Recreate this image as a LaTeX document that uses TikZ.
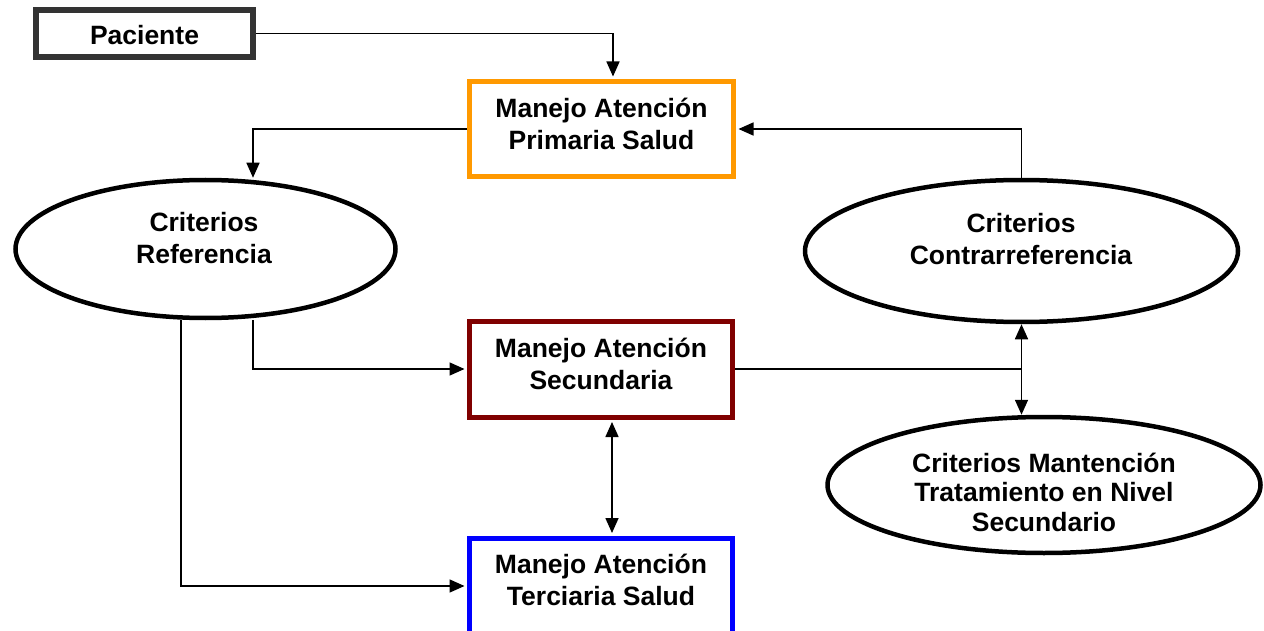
\documentclass[tikz,border=0pt]{standalone}
\usepackage{fontspec}
\setmainfont{Liberation Sans}
\usetikzlibrary{arrows.meta,shapes.geometric,calc}
\definecolor{pacgray}{HTML}{333333}
\definecolor{orangeb}{HTML}{FF9900}
\definecolor{redb}{HTML}{800000}
\definecolor{blueb}{HTML}{0000FF}
\begin{document}
\begin{tikzpicture}[x=1pt,y=-1pt,
  txt/.style={font=\bfseries\fontsize{26.5}{32}\selectfont, align=center, inner sep=0pt},
  boxn/.style={draw, line width=5pt, fill=white, minimum width=263pt, minimum height=96pt, inner sep=0pt},
  ell/.style={draw, ellipse, line width=4.5pt, fill=white, inner sep=0pt},
  conn/.style={line width=1.6pt},
  arr/.style={conn, -{Triangle[length=15pt,width=13pt]}},
  darr/.style={conn, {Triangle[length=15pt,width=13pt]}-{Triangle[length=15pt,width=13pt]}}
]
\useasboundingbox (0,0) rectangle (1264,631);
% nodes
\node[draw=pacgray, line width=6pt, fill=white, minimum width=217pt, minimum height=47pt, inner sep=0pt] (pac) at (144.5,33.5) {};
\node[txt, anchor=base] at (144.5,45) {Paciente};

\node[boxn, draw=orangeb, minimum width=264pt, minimum height=95pt] (prim) at (601.5,129) {};
\node[txt] at (601.5,124) {Manejo Atención\\Primaria Salud};

\node[boxn, draw=redb] (sec) at (601,369) {};
\node[txt] at (601,364) {Manejo Atención\\Secundaria};

\node[boxn, draw=blueb] (ter) at (601,586) {};
\node[txt] at (601,580) {Manejo Atención\\Terciaria Salud};

\node[ell, minimum width=380pt, minimum height=138pt] (ref) at (205.5,249) {};
\node[txt] at (204,238) {Criterios\\Referencia};

\node[ell, minimum width=433pt, minimum height=142pt] (contra) at (1021.5,251) {};
\node[txt] at (1021,239) {Criterios\\Contrarreferencia};

\node[ell, minimum width=433pt, minimum height=136pt] (mant) at (1044,485) {};
\node[txt, font=\bfseries\fontsize{26.5}{29.5}\selectfont] at (1044,492) {Criterios Mantención\\Tratamiento en Nivel\\Secundario};

% connectors
\draw[arr, shorten >=2.5pt] (pac.east) -| ($(prim.north)+(11.5,0)$);
\draw[arr, shorten >=2.5pt] (contra.north) |- (prim.east);
\draw[arr] (prim.west) -| ($(ref.north)+(47.5,0)$);
\draw[arr, shorten >=2.5pt] ($(ref.south)+(47.5,0)$) |- (sec.west);
\draw[arr, shorten >=2.5pt] ($(ref.south)+(-24.5,0)$) |- (ter.west);
\draw[conn] (sec.east) -- (sec.east -| contra.south);
\draw[darr] (contra.south) -- (contra.south |- mant.north);
\draw[darr, shorten <=2.5pt, shorten >=2.5pt] ($(sec.south)+(11,0)$) -- ($(ter.north)+(11,0)$);
\end{tikzpicture}
\end{document}
